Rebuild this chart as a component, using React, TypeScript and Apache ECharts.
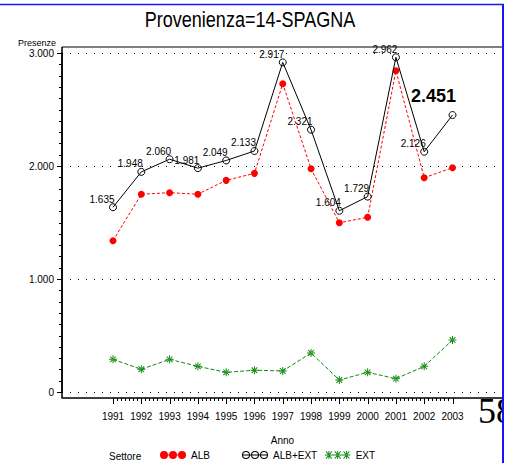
import React, { useEffect, useRef } from "react";
import * as echarts from "echarts";

const years = [1991, 1992, 1993, 1994, 1995, 1996, 1997, 1998, 1999, 2000, 2001, 2002, 2003];
const albExt = [1635, 1948, 2060, 1981, 2049, 2133, 2917, 2321, 1604, 1729, 2962, 2126, 2451];
const alb = [1339, 1750, 1764, 1750, 1873, 1935, 2728, 1976, 1498, 1546, 2843, 1896, 1985];
const ext = [289, 201, 289, 227, 174, 193, 186, 345, 106, 174, 118, 227, 460];
const highlightedYear = 2003;

const SANS = '"Liberation Sans", Arial, sans-serif';

const fmt = (v: number) =>
  v >= 1000 ? Math.floor(v / 1000) + "." + String(v % 1000).padStart(3, "0") : String(v);

const circlePath = (cx: number, r: number, sweep: number) =>
  `M${cx - r},4 a${r},${r} 0 1,${sweep} ${2 * r},0 a${r},${r} 0 1,${sweep} ${-2 * r},0 Z`;
const centers = [4, 13, 22];
const lineBar = "M0,3.5 h26 v1 h-26 Z";
const iconALB = "path://" + lineBar + " " + centers.map((c) => circlePath(c, 4, 1)).join(" ");
const iconALBEXT =
  "path://" +
  centers.map((c) => circlePath(c, 4, 1) + " " + circlePath(c, 3, 0)).join(" ") +
  " " +
  lineBar;
const star = (cx: number) =>
  `M${cx - 0.5},0 h1 v8 h-1 Z M${cx - 4},3.5 h8 v1 h-8 Z ` +
  `M${cx - 3.3},0.6 L${cx - 2.6},-0.1 L${cx + 3.3},7.4 L${cx + 2.6},8.1 Z ` +
  `M${cx + 3.3},0.6 L${cx + 2.6},-0.1 L${cx - 3.3},7.4 L${cx - 2.6},8.1 Z`;
const iconEXT = "path://" + lineBar + " " + centers.map(star).join(" ");
const starSymbol =
  "path://M-0.5,-4 h1 v8 h-1 Z M-4,-0.5 h8 v1 h-8 Z M-3.2,-2.5 L-2.5,-3.2 L3.2,2.5 L2.5,3.2 Z M3.2,-2.5 L2.5,-3.2 L-3.2,2.5 L-2.5,3.2 Z";

export default function App() {
  const ref = useRef<HTMLDivElement>(null);
  useEffect(() => {
    if (!ref.current) return;
    const chart = echarts.init(ref.current, undefined, { renderer: "svg" });
    const xMin = 1989.197;
    const xMax = 2004.785;
    const yMax = 3000;
    const X_OFFSET = 6;
    const gridBox = { left: 62, right: 4, top: 53, bottom: 71 };

    const legendBase = {
      top: 450,
      itemWidth: 26,
      itemHeight: 8,
      itemGap: 0,
      padding: 0,
      textStyle: { fontFamily: SANS, fontSize: 10, color: "#000" },
      selectedMode: false,
    };
    const baseGraphics: any[] = [
      {
        type: "text",
        x: 250,
        y: 19,
        scaleX: 0.82,
        style: {
          text: "Provenienza=14-SPAGNA",
          fontFamily: SANS,
          fontSize: 22,
          fill: "#000",
          align: "center",
          verticalAlign: "middle",
        },
      },
      { type: "line", shape: { x1: 62, y1: 47, x2: 503, y2: 47 }, style: { stroke: "#000", lineWidth: 1 } },
      { type: "line", shape: { x1: 62, y1: 47, x2: 62, y2: 398 }, style: { stroke: "#000", lineWidth: 1.5 } },
      {
        type: "text",
        x: 56,
        y: 43,
        style: { text: "Presenze", fontFamily: SANS, fontSize: 9, fill: "#000", align: "right", verticalAlign: "middle" },
      },
      {
        type: "text",
        x: 109,
        y: 456,
        style: { text: "Settore", fontFamily: SANS, fontSize: 10, fill: "#000", align: "left", verticalAlign: "middle" },
      },
      {
        type: "text",
        x: 478,
        y: 410.5,
        z: 90,
        style: {
          text: "58",
          fontFamily: '"Liberation Serif", "Times New Roman", serif',
          fontSize: 36,
          fill: "#000",
          align: "left",
          verticalAlign: "middle",
        },
      },
      { type: "rect", z: 100, shape: { x: 504, y: 0, width: 3, height: 463 }, style: { fill: "#fff" } },
      { type: "line", z: 101, shape: { x1: 503, y1: 4, x2: 503, y2: 463 }, style: { stroke: "#1414ff", lineWidth: 2 } },
      { type: "line", z: 101, shape: { x1: 0, y1: 4.5, x2: 504, y2: 4.5 }, style: { stroke: "#1414ff", lineWidth: 1.5 } },
    ];

    chart.setOption({
      animation: false,
      backgroundColor: "#fff",
      grid: gridBox,
      legend: [
        { ...legendBase, left: 160, data: [{ name: "ALB", icon: iconALB }] },
        {
          ...legendBase,
          left: 242,
          data: [{ name: "ALB+EXT", icon: iconALBEXT, itemStyle: { color: "#000", borderWidth: 0 } }],
        },
        { ...legendBase, left: 325, data: [{ name: "EXT", icon: iconEXT }] },
      ],
      xAxis: {
        type: "value",
        min: xMin,
        max: xMax,
        offset: X_OFFSET,
        name: "Anno",
        nameLocation: "middle",
        nameGap: 37,
        nameTextStyle: { fontFamily: SANS, fontSize: 10, color: "#000" },
        axisLine: { show: true, onZero: false, lineStyle: { color: "#000", width: 1.5 } },
        axisTick: { show: false },
        axisLabel: {
          customValues: years,
          formatter: (v: number) => String(Math.round(v)),
          fontFamily: SANS,
          fontSize: 10,
          color: "#000",
          margin: 13,
        },
        splitLine: { show: false },
      },
      yAxis: {
        type: "value",
        min: 0,
        max: yMax,
        interval: 1000,
        axisLine: { show: true, onZero: false, lineStyle: { color: "#000", width: 1.5 } },
        axisTick: { show: false },
        axisLabel: {
          formatter: (v: number) => fmt(v),
          fontFamily: SANS,
          fontSize: 10,
          color: "#000",
          margin: 8,
        },
        splitLine: { show: true, lineStyle: { color: "#000", type: [1, 7], width: 1 } },
      },
      series: [
        {
          name: "ALB",
          type: "line",
          data: years.map((y, i) => [y, alb[i]]),
          symbol: "circle",
          symbolSize: 7,
          itemStyle: { color: "#ff0000" },
          lineStyle: { color: "#ff0000", width: 1, type: [3, 2] },
          z: 2,
        },
        {
          name: "ALB+EXT",
          type: "line",
          data: years.map((y, i) =>
            y === highlightedYear
              ? {
                  value: [y, albExt[i]],
                  label: {
                    fontSize: 18,
                    fontWeight: "bold",
                    offset: [-19, -19],
                  },
                }
              : [y, albExt[i]]
          ),
          symbol: "circle",
          symbolSize: 7,
          itemStyle: { color: "rgba(0,0,0,0)", borderColor: "#000", borderWidth: 1 },
          lineStyle: { color: "#000", width: 1 },
          label: {
            show: true,
            position: "inside",
            offset: [-11, -8],
            fontFamily: SANS,
            fontSize: 10,
            color: "#000",
            formatter: (p: any) => fmt(p.value[1]),
          },
          z: 3,
        },
        {
          name: "EXT",
          type: "line",
          data: years.map((y, i) => [y, ext[i]]),
          symbol: starSymbol,
          symbolSize: 8,
          itemStyle: { color: "#108a10" },
          lineStyle: { color: "#108a10", width: 1, type: [4, 2] },
          z: 2,
        },
      ],
      graphic: baseGraphics,
    });

    // Axis tick marks, placed through the chart's own axis scales (fallback: the grid's linear scale)
    const W = 507 - gridBox.left - gridBox.right;
    const H = 463 - gridBox.top - gridBox.bottom;
    const xPx = (v: number): number => {
      const r = chart.convertToPixel({ xAxisIndex: 0 }, v) as any;
      return typeof r === "number" && isFinite(r) ? r : gridBox.left + ((v - xMin) / (xMax - xMin)) * W;
    };
    const yPx = (v: number): number => {
      const r = chart.convertToPixel({ yAxisIndex: 0 }, v) as any;
      return typeof r === "number" && isFinite(r) ? r : gridBox.top + (1 - v / yMax) * H;
    };
    const axisY = Math.round(yPx(0)) + X_OFFSET;
    const axisX = Math.round(xPx(xMin));
    const tickGraphics: any[] = [];
    for (let i = 0; i < years.length; i++) {
      const positions = [{ v: years[i], len: 6 }];
      if (i < years.length - 1) for (let k = 1; k < 7; k++) positions.push({ v: years[i] + k / 7, len: 3 });
      positions.forEach(({ v, len }) => {
        const x = Math.round(xPx(v));
        tickGraphics.push({
          type: "rect",
          z: 50,
          shape: { x, y: axisY, width: 1, height: len },
          style: { fill: "#000" },
        });
      });
    }
    for (let v = 0; v <= yMax; v += 100) {
      const y = Math.round(yPx(v));
      const len = v % 1000 === 0 ? 5 : 3;
      tickGraphics.push({
        type: "rect",
        z: 50,
        shape: { x: axisX - len, y, width: len, height: 1 },
        style: { fill: "#000" },
      });
    }
    chart.setOption({ graphic: [...baseGraphics, ...tickGraphics] });

    return () => chart.dispose();
  }, []);
  return <div ref={ref} style={{ position: "absolute", left: 0, top: 0, width: 507, height: 463 }} />;
}
